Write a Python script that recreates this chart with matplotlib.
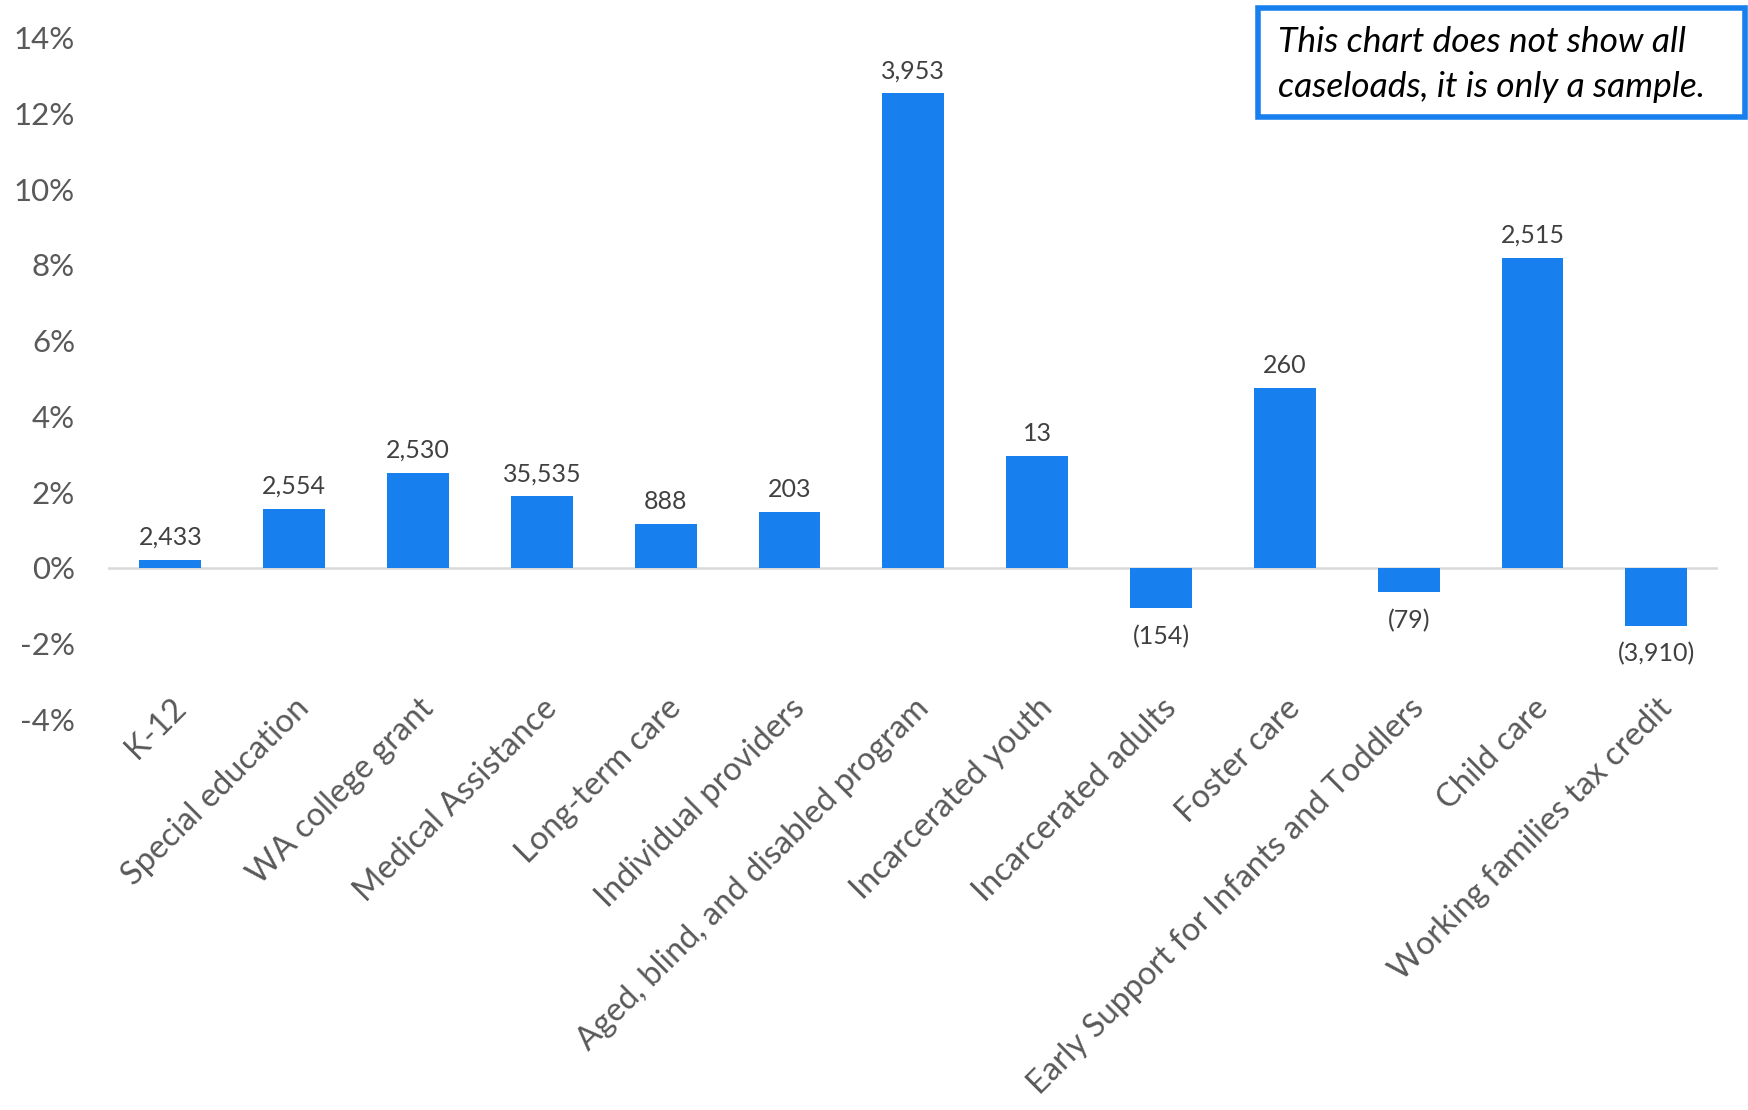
import matplotlib.pyplot as plt
from matplotlib.patches import Rectangle

# caseload change by program (percent) with the change in count shown above each bar
programs = ["K-12", "Special education", "WA college grant", "Medical Assistance",
            "Long-term care", "Individual providers", "Aged, blind, and disabled program",
            "Incarcerated youth", "Incarcerated adults", "Foster care",
            "Early Support for Infants and Toddlers", "Child care",
            "Working families tax credit"]
pct_change = [0.21, 1.56, 2.50, 1.89, 1.15, 1.47, 12.53, 2.95, -1.06, 4.75, -0.65, 8.19, -1.53]
count_change = [2433, 2554, 2530, 35535, 888, 203, 3953, 13, -154, 260, -79, 2515, -3910]

yticks = list(range(-4, 15, 2))

plt.rcParams['font.family'] = ['Lato', 'DejaVu Sans']

fig = plt.figure(figsize=(17.48, 11.10), dpi=100)
ax = fig.add_axes([0.062, 0.352, 0.921, 0.614])

x = range(len(programs))
bars = ax.bar(x, pct_change, width=0.5, color='#1780EE', zorder=2)

for xi, p, c in zip(x, pct_change, count_change):
    label = f"{c:,}" if c >= 0 else f"({-c:,})"
    if p >= 0:
        ax.annotate(label, (xi, p), xytext=(0, 8), textcoords='offset points',
                    ha='center', va='bottom', fontsize=18, color='#404040')
    else:
        ax.annotate(label, (xi, p), xytext=(0, -12), textcoords='offset points',
                    ha='center', va='top', fontsize=18, color='#404040')

ax.axhline(0, color='#d9d9d9', linewidth=1.8, zorder=1)
ax.set_xlim(-0.5, len(programs) - 0.5)
ax.set_ylim(-4, 14)
ax.set_yticks(yticks)
ax.set_yticklabels([f"{t}%" for t in yticks], fontsize=22.5, color='#595959')
ax.set_xticks(list(x))
ax.set_xticklabels(programs, rotation=45, ha='right', rotation_mode='anchor',
                   fontsize=23.5, color='#595959')
ax.tick_params(length=0)
ax.tick_params(axis='y', pad=24)
ax.tick_params(axis='x', pad=-19)
for s in ax.spines.values():
    s.set_visible(False)

# note box in the top right corner
fig.patches.append(Rectangle((1258 / 1748, 1 - 117 / 1110), 487 / 1748, 109 / 1110,
                             transform=fig.transFigure, facecolor='white',
                             edgecolor='#1780EE', linewidth=4, zorder=5))
fig.text(1278 / 1748, 1 - 42 / 1110, "This chart does not show all",
         fontsize=25.5, style='italic', color='black', va='center', ha='left', zorder=6)
fig.text(1278 / 1748, 1 - 87 / 1110, "caseloads, it is only a sample.",
         fontsize=25.5, style='italic', color='black', va='center', ha='left', zorder=6)

fig.savefig("out.png", dpi=100)
